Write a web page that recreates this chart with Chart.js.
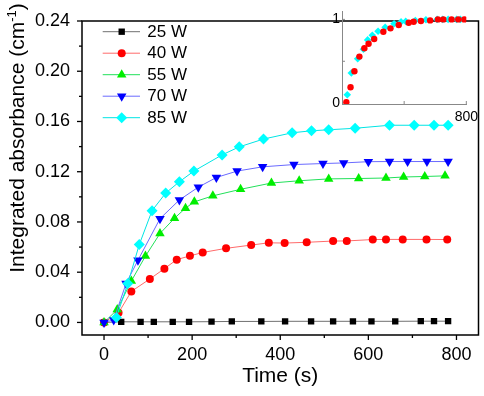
<!DOCTYPE html>
<html>
<head>
<meta charset="utf-8">
<title>Integrated absorbance vs time</title>
<script src="https://cdn.jsdelivr.net/npm/chart.js@4.4.0/dist/chart.umd.min.js"></script>
<style>
  html, body { margin: 0; padding: 0; background: #fff; }
  #wrap { position: relative; width: 484px; height: 396px; }
  #mainChart { position: absolute; left: 0; top: 0; }
  #insetChart { position: absolute; left: 320px; top: 0; }
</style>
</head>
<body>
<div id="wrap">
  <canvas id="mainChart" width="484" height="396"></canvas>
  <canvas id="insetChart" width="164" height="125"></canvas>
</div>
<script>
// axis ticks
const xTicks = [0, 200, 400, 600, 800];
const xMinor = [100, 300, 500, 700];
const yTicks = [0, 0.04, 0.08, 0.12, 0.16, 0.20, 0.24];
const yMinor = [0.02, 0.06, 0.10, 0.14, 0.18, 0.22];

const seriesLabels = ["25 W", "40 W", "55 W", "70 W", "85 W"];

// main plot, time (s) and integrated absorbance (cm-1)
const time25 = [0, 39, 83, 113, 156, 193, 244, 290, 357, 411, 470, 520, 565, 607, 661, 719, 749, 781];
const abs25 = [0, 0.0005, 0.0005, 0.0005, 0.0005, 0.0005, 0.0006, 0.0008, 0.0008, 0.0009, 0.0009, 0.0009, 0.0009, 0.0009, 0.0009, 0.001, 0.001, 0.001];

const time40 = [0, 33, 62, 104, 137, 165, 195, 224, 277, 334, 374, 410, 460, 520, 551, 610, 640, 678, 732, 779];
const abs40 = [0, 0.0077, 0.0247, 0.0346, 0.0428, 0.0500, 0.0530, 0.0557, 0.0590, 0.0616, 0.0634, 0.0632, 0.0638, 0.0648, 0.0649, 0.0660, 0.0661, 0.0661, 0.0661, 0.0660];

const time55 = [0, 30, 62, 94, 127, 160, 185, 205, 247, 310, 380, 443, 510, 578, 640, 680, 728, 774];
const abs55 = [0, 0.0103, 0.0330, 0.0528, 0.0708, 0.0830, 0.0910, 0.0960, 0.1008, 0.1060, 0.1110, 0.1128, 0.1143, 0.1146, 0.1150, 0.1158, 0.1162, 0.1167];

const time70 = [0, 22, 50, 77, 127, 171, 214, 255, 302, 360, 431, 497, 544, 600, 648, 689, 733, 781];
const abs70 = [0, 0.002, 0.031, 0.0495, 0.0826, 0.0975, 0.1077, 0.1154, 0.1205, 0.1239, 0.1257, 0.1265, 0.1270, 0.1280, 0.1281, 0.1281, 0.1281, 0.1281];

const time85 = [28, 54, 80, 109, 140, 171, 204, 268, 307, 362, 427, 471, 510, 570, 648, 704, 749, 781];
const abs85 = [0.004, 0.031, 0.062, 0.089, 0.103, 0.112, 0.1205, 0.1334, 0.1398, 0.146, 0.151, 0.1526, 0.1534, 0.1546, 0.157, 0.157, 0.157, 0.157];

// inset, normalised
const insetTime40 = [28, 55, 80, 112, 144, 171, 207, 266, 312, 365, 429, 461, 508, 567, 617, 652, 705, 748, 787];
const insetNorm40 = [0.012, 0.19, 0.38, 0.556, 0.655, 0.71, 0.766, 0.853, 0.893, 0.933, 0.96, 0.972, 0.98, 0.988, 1.0, 1.0, 1.0, 1.0, 1.0];
const insetTime85 = [34, 60, 101, 138, 165, 195, 232, 278, 335, 380, 410, 472, 540, 612, 648, 683, 737, 762];
const insetNorm85 = [0.1, 0.36, 0.53, 0.643, 0.755, 0.81, 0.858, 0.905, 0.947, 0.97, 0.976, 0.986, 0.995, 1.0, 1.0, 1.0, 1.0, 1.0];
const insetXTicks = [800];
const insetYTicks = [0, 1];

const FONT = "'Liberation Sans', Arial, sans-serif";
Chart.defaults.font.family = FONT;
Chart.defaults.color = "#000";

function toPoints(t, v) {
  return t.map((x, i) => ({ x: x, y: v[i] }));
}

function series(label, t, v, color, lineColor, style, radius, rotation, order) {
  return {
    label: label,
    data: toPoints(t, v),
    borderColor: lineColor,
    borderWidth: 1,
    backgroundColor: color,
    pointBackgroundColor: color,
    pointBorderWidth: 0,
    pointStyle: style,
    pointRadius: radius,
    pointRotation: rotation,
    tension: 0,
    order: order
  };
}

function mark(ctx, x1, y1, x2, y2) {
  ctx.beginPath();
  ctx.moveTo(x1, y1);
  ctx.lineTo(x2, y2);
  ctx.stroke();
}

// frame, ticks, legend and axis titles of the main plot
const mainDecor = {
  id: "mainDecor",
  afterDraw(chart) {
    const { ctx, chartArea: a, scales: { x, y } } = chart;
    ctx.save();
    ctx.strokeStyle = "#000";
    ctx.lineWidth = 1.3;
    xTicks.forEach(v => { const p = x.getPixelForValue(v); mark(ctx, p, a.bottom, p, a.bottom + 5); });
    xMinor.forEach(v => { const p = x.getPixelForValue(v); mark(ctx, p, a.bottom, p, a.bottom + 3); });
    yTicks.forEach(v => { const p = y.getPixelForValue(v); mark(ctx, a.left, p, a.left - 5, p); });
    yMinor.forEach(v => { const p = y.getPixelForValue(v); mark(ctx, a.left, p, a.left - 3, p); });
    ctx.lineWidth = 1.5;
    ctx.strokeRect(a.left, a.top, a.width, a.height);

    // legend
    ctx.font = "17px " + FONT;
    ctx.textBaseline = "middle";
    ctx.textAlign = "left";
    chart.data.datasets.forEach((ds, i) => {
      const ry = 31.7 + i * 21.5;
      ctx.strokeStyle = ds.borderColor;
      ctx.lineWidth = 1;
      mark(ctx, 102.7, ry, 140, ry);
      ctx.fillStyle = ds.pointBackgroundColor;
      Chart.helpers.drawPoint(ctx, {
        pointStyle: ds.pointStyle, rotation: ds.pointRotation,
        radius: ds.pointRadius, borderWidth: 0
      }, 121.7, ry);
      ctx.fillStyle = "#000";
      ctx.fillText(ds.label, 147.3, ry + 0.5);
    });

    // x title
    ctx.font = "21px " + FONT;
    ctx.textBaseline = "alphabetic";
    ctx.textAlign = "center";
    ctx.fillText("Time (s)", (a.left + a.right) / 2, 382);

    // y title with superscript
    const main = "Integrated absorbance (cm";
    const sup = "-1";
    const tail = ")";
    ctx.translate(23.5, 138);
    ctx.rotate(-Math.PI / 2);
    ctx.textAlign = "left";
    ctx.font = "21px " + FONT;
    const w1 = ctx.measureText(main).width;
    const w3 = ctx.measureText(tail).width;
    ctx.font = "13px " + FONT;
    const w2 = ctx.measureText(sup).width;
    let sx = -(w1 + w2 + w3) / 2;
    ctx.font = "21px " + FONT;
    ctx.fillText(main, sx, 0);
    sx += w1;
    ctx.font = "13px " + FONT;
    ctx.fillText(sup, sx, -8);
    sx += w2;
    ctx.font = "21px " + FONT;
    ctx.fillText(tail, sx, 0);
    ctx.restore();
  }
};

new Chart(document.getElementById("mainChart"), {
  type: "line",
  data: {
    datasets: [
      series(seriesLabels[0], time25, abs25, "#000000", "#707070", "rect", 4.5, 0, 5),
      series(seriesLabels[1], time40, abs40, "#ff0000", "#ff6a6a", "circle", 4, 0, 4),
      series(seriesLabels[2], time55, abs55, "#00ee00", "#22e05a", "triangle", 5.5, 0, 3),
      series(seriesLabels[3], time70, abs70, "#0000ff", "#6a6aff", "triangle", 5.5, 180, 2),
      series(seriesLabels[4], time85, abs85, "#00ffff", "#00e4e4", "rectRot", 5.5, 0, 1)
    ]
  },
  options: {
    responsive: false,
    animation: false,
    layout: { padding: { left: 0, right: 3, top: 10, bottom: 0 } },
    plugins: { legend: { display: false }, tooltip: { enabled: false } },
    scales: {
      x: {
        type: "linear",
        min: -50,
        max: 850,
        afterBuildTicks: s => { s.ticks = xTicks.map(v => ({ value: v })); },
        afterFit: s => { s.height = 61; },
        grid: { display: false, drawTicks: false },
        border: { display: false },
        ticks: { padding: 11, maxRotation: 0, autoSkip: false, font: { size: 18, lineHeight: 1 } }
      },
      y: {
        type: "linear",
        min: -0.01,
        max: 0.24,
        afterBuildTicks: s => { s.ticks = yTicks.map(v => ({ value: v })); },
        afterFit: s => { s.width = 82; },
        grid: { display: false, drawTicks: false },
        border: { display: false },
        ticks: { padding: 12, font: { size: 18, lineHeight: 1 }, callback: v => v.toFixed(2) }
      }
    }
  },
  plugins: [mainDecor]
});

// inward tick marks of the inset
const insetDecor = {
  id: "insetDecor",
  afterDraw(chart) {
    const { ctx, chartArea: a, scales: { x, y } } = chart;
    ctx.save();
    ctx.strokeStyle = "#888";
    ctx.lineWidth = 1;
    [400, 800].forEach(v => { const p = x.getPixelForValue(v); mark(ctx, p, a.bottom, p, a.bottom - 3); });
    [0.5, 1].forEach(v => { const p = y.getPixelForValue(v); mark(ctx, a.left, p, a.left + 3, p); });
    ctx.restore();
  }
};

new Chart(document.getElementById("insetChart"), {
  type: "scatter",
  data: {
    datasets: [
      {
        label: seriesLabels[1],
        data: toPoints(insetTime40, insetNorm40),
        pointStyle: "circle", pointRadius: 3.2, pointBorderWidth: 0,
        pointBackgroundColor: "#ff0000", order: 1
      },
      {
        label: seriesLabels[4],
        data: toPoints(insetTime85, insetNorm85),
        pointStyle: "rectRot", pointRadius: 3.8, pointBorderWidth: 0,
        pointBackgroundColor: "#00ffff", order: 2
      }
    ]
  },
  options: {
    responsive: false,
    animation: false,
    layout: { padding: { left: 0, right: 16, top: 11, bottom: 0 } },
    plugins: { legend: { display: false }, tooltip: { enabled: false } },
    scales: {
      x: {
        type: "linear", min: 0, max: 800,
        afterBuildTicks: s => { s.ticks = insetXTicks.map(v => ({ value: v })); },
        afterFit: s => { s.height = 21; },
        grid: { display: false, drawTicks: false },
        border: { display: true, color: "#888", width: 1 },
        ticks: { padding: 6, maxRotation: 0, font: { size: 14, lineHeight: 1 } }
      },
      y: {
        type: "linear", min: -0.01, max: 1.1,
        afterBuildTicks: s => { s.ticks = insetYTicks.map(v => ({ value: v })); },
        afterFit: s => { s.width = 22; },
        grid: { display: false, drawTicks: false },
        border: { display: true, color: "#888", width: 1 },
        ticks: { padding: 2, font: { size: 14, lineHeight: 1 } }
      }
    }
  },
  plugins: [insetDecor]
});
</script>
</body>
</html>
